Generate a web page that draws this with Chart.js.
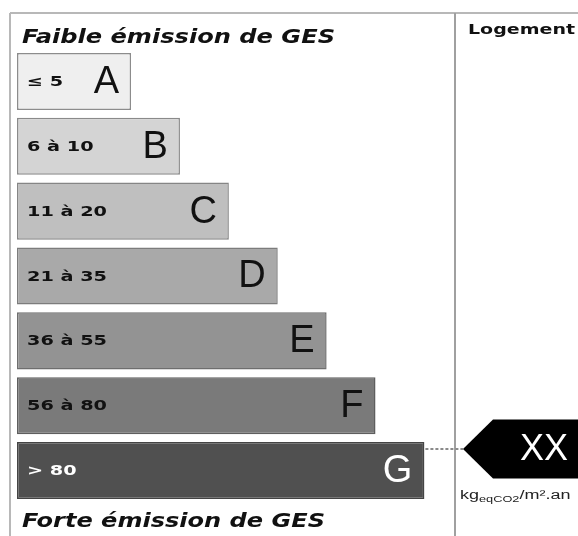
<!DOCTYPE html>
<html>
<head>
<meta charset="utf-8">
<script src="https://cdn.jsdelivr.net/npm/chart.js@4/dist/chart.umd.min.js"></script>
<style>
  html, body { margin: 0; padding: 0; background: #ffffff; }
  canvas { display: block; }
</style>
</head>
<body>
<canvas id="c" width="578" height="536"></canvas>
<script>
// ---- data ----
const classes = ['A', 'B', 'C', 'D', 'E', 'F', 'G'];
const ranges = ['≤ 5', '6 à 10', '11 à 20', '21 à 35', '36 à 55', '56 à 80', '> 80'];
const barLengths = [7, 10, 13, 16, 19, 22, 25];
const topTitle = 'Faible émission de GES';
const bottomTitle = 'Forte émission de GES';
const sideTitle = 'Logement';
const markerText = 'XX';
const markerClass = 'G';
const unitMain = 'kg';
const unitSub = 'eqCO2';
const unitTail = '/m².an';

// ---- styles ----
const fillColors = ['#efefef', '#d4d4d4', '#bfbfbf', '#a9a9a9', '#939393', '#7a7a7a', '#505050'];
const strokeColors = ['#8c8c8c', '#8a8a8a', '#858585', '#7c7c7c', '#6e6e6e', '#5e5e5e', '#444444'];
const textColors = ['#111', '#111', '#111', '#111', '#111', '#111', '#ffffff'];

function scaledText(ctx, text, x, y, sx) {
  ctx.save();
  ctx.translate(x, y);
  ctx.scale(sx, 1);
  ctx.fillText(text, 0, 0);
  ctx.restore();
}
function fitText(ctx, text, x, y, width) {
  const w = ctx.measureText(text).width;
  scaledText(ctx, text, x, y, width / w);
}

const decor = {
  id: 'decor',
  beforeDraw(chart) {
    const ctx = chart.ctx;
    ctx.save();
    ctx.fillStyle = '#ffffff';
    ctx.fillRect(0, 0, chart.width, chart.height);
    ctx.strokeStyle = '#b8b8b8';
    ctx.lineWidth = 2;
    ctx.beginPath();
    ctx.moveTo(10, 13); ctx.lineTo(578, 13);
    ctx.moveTo(10, 13); ctx.lineTo(10, 536);
    ctx.stroke();
    ctx.strokeStyle = '#a0a0a0';
    ctx.beginPath();
    ctx.moveTo(455, 13); ctx.lineTo(455, 536);
    ctx.stroke();
    ctx.restore();
  },
  afterDatasetsDraw(chart) {
    const ctx = chart.ctx;
    const meta = chart.getDatasetMeta(0);
    ctx.save();
    ctx.font = 'bold 14px "DejaVu Sans"';
    const rangeScale = 80 / ctx.measureText(ranges[2]).width;
    meta.data.forEach((bar, i) => {
      const props = bar.getProps(['x', 'y', 'base', 'height'], true);
      ctx.fillStyle = textColors[i];
      ctx.textBaseline = 'middle';
      ctx.textAlign = 'left';
      ctx.font = 'bold 14px "DejaVu Sans"';
      scaledText(ctx, ranges[i], props.base + 10, props.y + 1, rangeScale);
      ctx.textAlign = 'right';
      ctx.font = '38px "Liberation Sans"';
      ctx.fillText(classes[i], props.x - 12, props.y + 1);
    });

    // titles
    ctx.fillStyle = '#111';
    ctx.textAlign = 'left';
    ctx.textBaseline = 'alphabetic';
    ctx.font = 'italic bold 19px "DejaVu Sans"';
    fitText(ctx, topTitle, 22, 43, 313);
    fitText(ctx, bottomTitle, 22, 527, 303);
    ctx.font = 'bold 14px "DejaVu Sans"';
    fitText(ctx, sideTitle, 468, 34, 107);

    // marker arrow
    const gi = classes.indexOf(markerClass);
    const g = meta.data[gi].getProps(['x', 'y', 'height'], true);
    const tipY = g.y - g.height / 2 + 7;
    const tipX = 463;
    const half = 29.5;
    ctx.strokeStyle = '#8a8a8a';
    ctx.lineWidth = 2;
    ctx.setLineDash([3, 2]);
    ctx.beginPath();
    ctx.moveTo(g.x + 1, tipY);
    ctx.lineTo(tipX, tipY);
    ctx.stroke();
    ctx.setLineDash([]);
    ctx.fillStyle = '#000';
    ctx.beginPath();
    ctx.moveTo(tipX, tipY);
    ctx.lineTo(tipX + 30, tipY - half);
    ctx.lineTo(600, tipY - half);
    ctx.lineTo(600, tipY + half);
    ctx.lineTo(tipX + 30, tipY + half);
    ctx.closePath();
    ctx.fill();
    ctx.fillStyle = '#fff';
    ctx.font = '36px "Liberation Sans"';
    ctx.textAlign = 'center';
    ctx.textBaseline = 'middle';
    ctx.fillText(markerText, 544, tipY + 1);

    // unit
    ctx.fillStyle = '#222';
    ctx.textAlign = 'left';
    ctx.textBaseline = 'alphabetic';
    const us = 1.5;
    let x = 460;
    const by = tipY + half + 20;
    ctx.font = '12px "Liberation Sans"';
    scaledText(ctx, unitMain, x, by, us);
    x += ctx.measureText(unitMain).width * us;
    ctx.font = '8.5px "Liberation Sans"';
    scaledText(ctx, unitSub, x, by + 3, us);
    x += ctx.measureText(unitSub).width * us;
    ctx.font = '12px "Liberation Sans"';
    scaledText(ctx, unitTail, x, by, us);
    ctx.restore();
  }
};

new Chart(document.getElementById('c'), {
  type: 'bar',
  data: {
    labels: classes,
    datasets: [{
      data: barLengths,
      backgroundColor: fillColors,
      borderColor: strokeColors,
      borderWidth: 1.5,
      borderSkipped: false,
      barPercentage: 0.88,
      categoryPercentage: 1
    }]
  },
  options: {
    indexAxis: 'y',
    responsive: false,
    animation: false,
    devicePixelRatio: 1,
    layout: { padding: { left: 17, right: 121, top: 49, bottom: 33 } },
    plugins: { legend: { display: false }, tooltip: { enabled: false } },
    scales: {
      x: { display: false, min: 0, max: 27 },
      y: { display: false }
    }
  },
  plugins: [decor]
});
</script>
</body>
</html>
